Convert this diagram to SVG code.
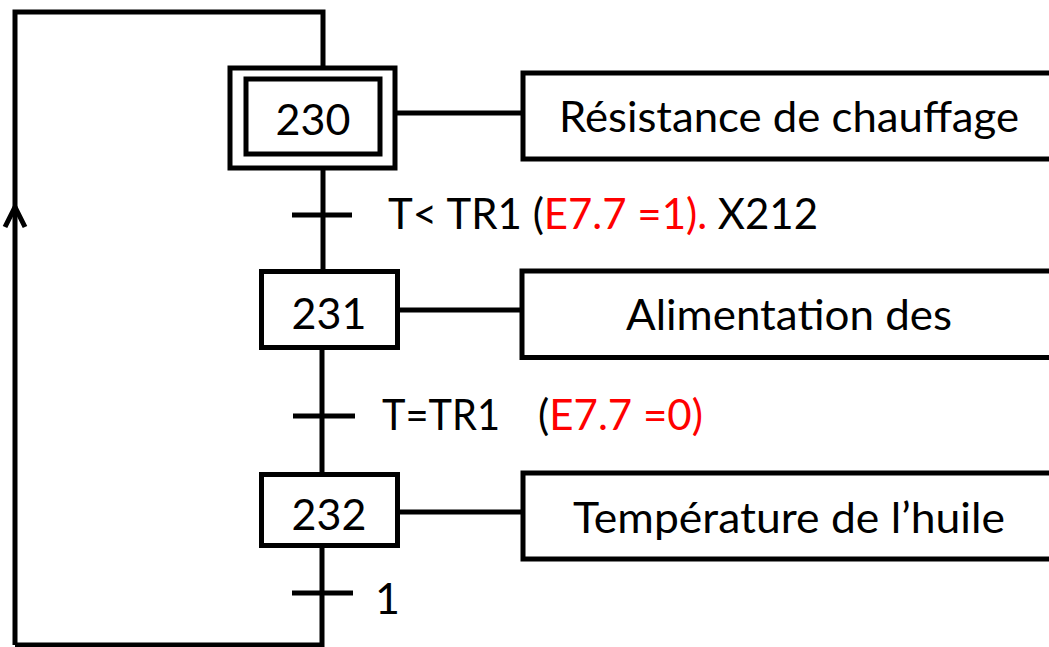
<svg xmlns="http://www.w3.org/2000/svg" width="1049" height="647" viewBox="0 0 1049 647">
<style>
.ln{fill:none;stroke:#000;stroke-width:5;stroke-linecap:butt;stroke-linejoin:miter}
.box{fill:#fff;stroke:#000;stroke-width:5}
.t{font-family:Lato,"Open Sans","Liberation Sans",sans-serif;font-size:43px;fill:#000}
.c{text-anchor:middle}
.r{fill:#ff0000}
</style>
<rect width="1049" height="647" fill="#fff"/>
<g id="connectors">
  <path class="ln" d="M15,645 V12 H323 V68"/>
  <polyline class="ln" stroke-width="4" points="5,227 15,207 25,227"/>
  <line class="ln" x1="323" y1="168" x2="323" y2="270"/>
  <line class="ln" x1="292" y1="215" x2="352" y2="215"/>
  <line class="ln" x1="322" y1="340" x2="322" y2="473"/>
  <line class="ln" x1="293" y1="416" x2="355" y2="416"/>
  <path class="ln" d="M322,542 V645 H15"/>
  <line class="ln" x1="292" y1="593" x2="353" y2="593"/>
  <line class="ln" x1="395" y1="113" x2="523" y2="113"/>
  <line class="ln" x1="397" y1="310" x2="522" y2="310"/>
  <line class="ln" x1="397" y1="512" x2="523" y2="512"/>
</g>
<g id="step230">
  <rect class="box" stroke-width="4" x="230" y="68" width="165" height="100"/>
  <rect class="box" stroke-width="5.5" x="246" y="79" width="134" height="75"/>
  <text class="t c" x="313" y="135">230</text>
</g>
<g id="step231">
  <rect class="box" x="261.5" y="271.5" width="136" height="76"/>
  <text class="t c" x="329" y="329">231</text>
</g>
<g id="step232">
  <rect class="box" x="261.5" y="474.5" width="136" height="71"/>
  <text class="t c" x="329" y="530">232</text>
</g>
<g id="action230">
  <rect class="box" x="523" y="73" width="540" height="86"/>
  <text class="t" x="559" y="132" textLength="460" lengthAdjust="spacingAndGlyphs">Résistance de chauffage</text>
</g>
<g id="action231">
  <rect class="box" x="522" y="271" width="540" height="86.5"/>
  <text class="t" x="626" y="330" textLength="326" lengthAdjust="spacingAndGlyphs">Alimentation des</text>
</g>
<g id="action232">
  <rect class="box" x="523" y="473" width="540" height="86"/>
  <text class="t" x="573" y="533" textLength="432" lengthAdjust="spacingAndGlyphs">Température de l’huile</text>
</g>
<g id="transition1">
  <text class="t" x="388" y="229" textLength="430" lengthAdjust="spacingAndGlyphs">T&lt; TR1 (<tspan class="r">E7.7 =1).</tspan> X212</text>
</g>
<g id="transition2">
  <text class="t" x="382" y="430" textLength="118" lengthAdjust="spacingAndGlyphs">T=TR1</text>
  <text class="t" x="538" y="430" textLength="165" lengthAdjust="spacingAndGlyphs">(<tspan class="r">E7.7 =0)</tspan></text>
</g>
<g id="transition3">
  <text class="t" x="375" y="614">1</text>
</g>
</svg>
